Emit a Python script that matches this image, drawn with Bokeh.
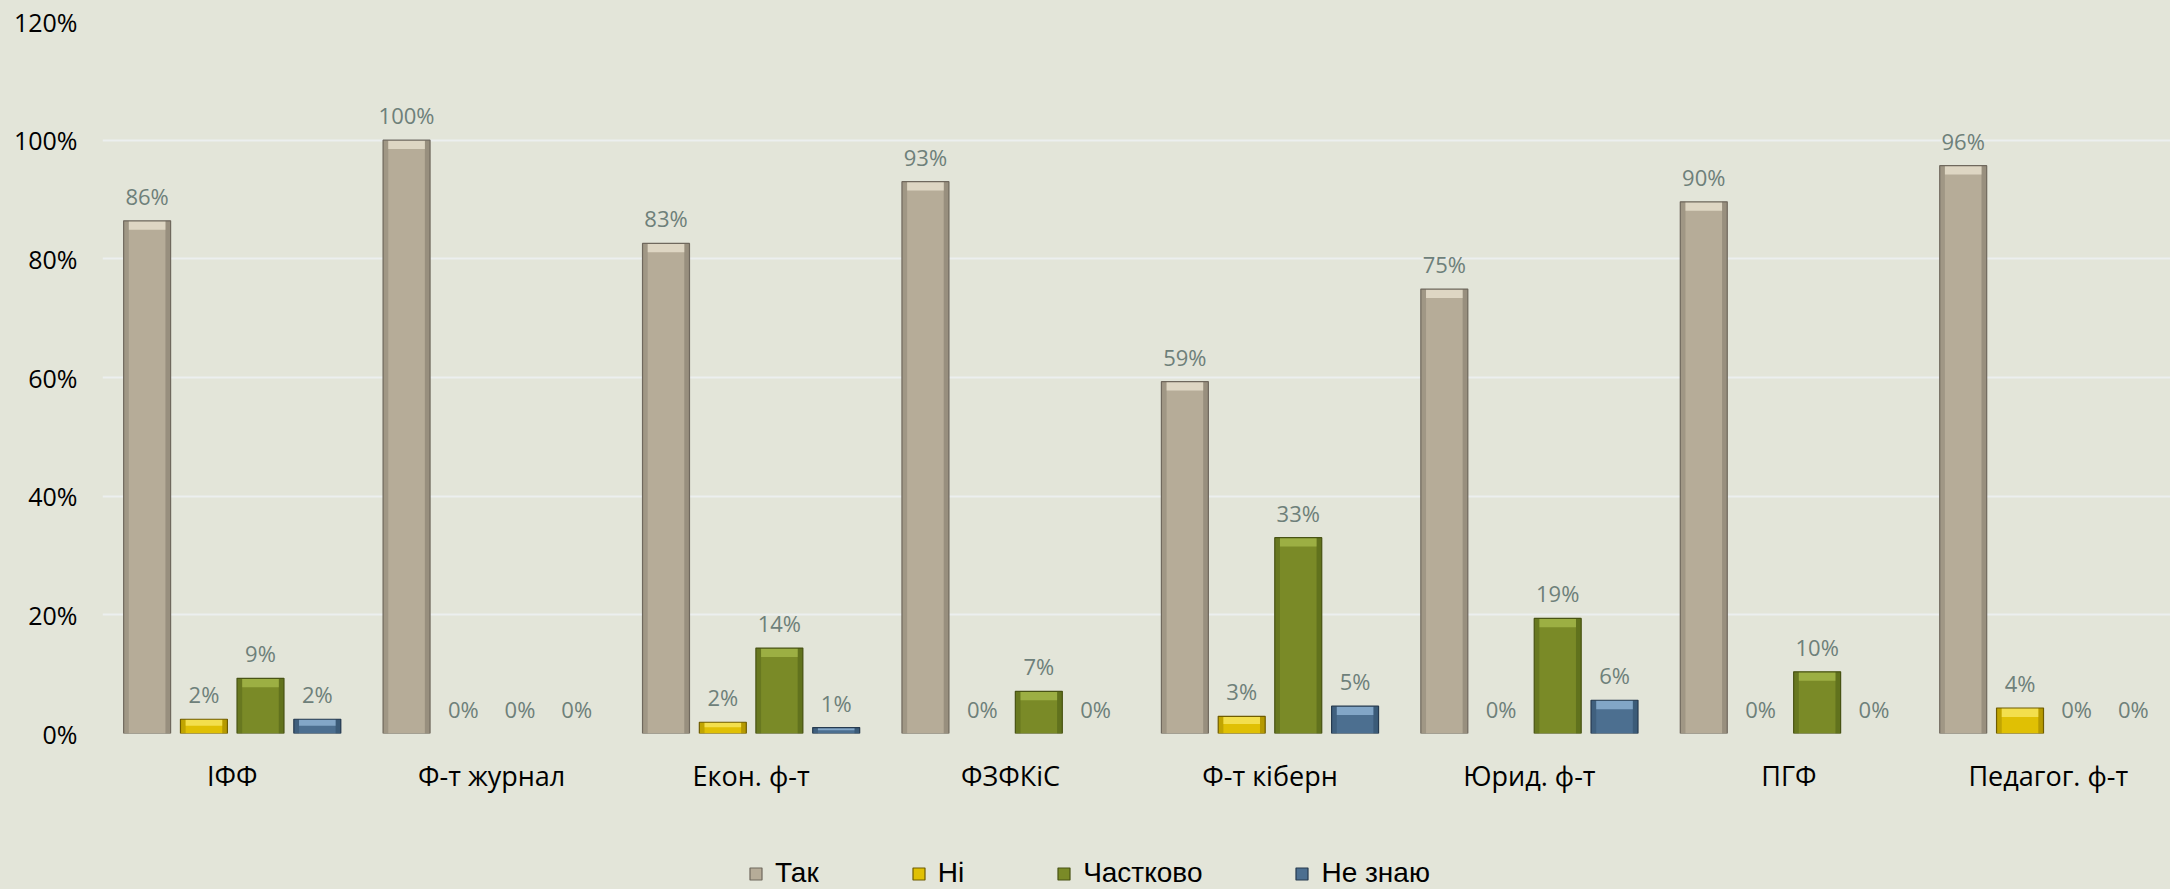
from bokeh.plotting import figure
from bokeh.layouts import column
from bokeh.models import (Range1d, FixedTicker, PrintfTickFormatter, Legend, LegendItem,
                          ColumnDataSource)
from bokeh.core.properties import value
from bokeh.embed import file_html
from bokeh.resources import INLINE

categories = ["ІФФ", "Ф-т журнал", "Екон. ф-т", "ФЗФКіС", "Ф-т кіберн", "Юрид. ф-т", "ПГФ", "Педагог. ф-т"]
series_names = ["Так", "Ні", "Частково", "Не знаю"]
tak = [86.4, 100.0, 82.6, 93.0, 59.3, 74.9, 89.6, 95.7]
ni = [2.4, 0.0, 1.9, 0.0, 2.9, 0.0, 0.0, 4.3]
chastkovo = [9.3, 0.0, 14.4, 7.1, 33.0, 19.4, 10.4, 0.0]
ne_znayu = [2.4, 0.0, 1.0, 0.0, 4.6, 5.6, 0.0, 0.0]
y_ticks = [0, 20, 40, 60, 80, 100, 120]

series = [tak, ni, chastkovo, ne_znayu]
fills = ["#B6AC98", "#E0C004", "#7A8A27", "#4C6F90"]
edges = ["#6F685D", "#6F5C00", "#485314", "#263A4F"]
lights = ["#E9E1CE", "#F8E660", "#A5B84B", "#90B4D4"]
shades = ["#8E8676", "#A88E00", "#5A6A1B", "#365470"]
offsets = [-0.328, -0.109, 0.109, 0.328]
bar_w = 0.181
strip = 0.02

BG = "#E3E5D9"
FONT = "Open Sans"

p = figure(width=2170, height=845, output_backend="svg", toolbar_location=None,
           x_range=Range1d(0, 7.971), y_range=Range1d(0, 120),
           min_border_left=102, min_border_right=0, min_border_top=21, min_border_bottom=112)
p.background_fill_color = BG
p.border_fill_color = BG
p.outline_line_color = None

label_color = "#6E807A"
for k, vals in enumerate(series):
    xs = [i + 0.5 + offsets[k] for i in range(len(categories))]
    nz = [j for j, v in enumerate(vals) if v > 0]
    bars = ColumnDataSource(dict(
        x=[xs[j] for j in nz], top=[vals[j] for j in nz],
        xl=[xs[j] - bar_w / 2 + strip / 2 for j in nz],
        xr=[xs[j] + bar_w / 2 - strip / 2 for j in nz],
        hb=[max(vals[j] - min(1.5, vals[j] * 0.45), 0) for j in nz]))
    p.vbar(x="x", top="top", bottom=0, width=bar_w, source=bars,
           fill_color=fills[k], line_color=None)
    p.vbar(x="xl", top="top", bottom=0, width=strip, source=bars,
           fill_color=shades[k], fill_alpha=0.55, line_color=None)
    p.vbar(x="xr", top="top", bottom=0, width=strip, source=bars,
           fill_color=shades[k], fill_alpha=0.75, line_color=None)
    p.vbar(x="x", top="top", bottom="hb", width=bar_w - 2 * strip, source=bars,
           fill_color=lights[k], fill_alpha=0.8, line_color=None)
    p.vbar(x="x", top="top", bottom=0, width=bar_w, source=bars,
           fill_color=None, line_color=edges[k], line_width=1.2)
    labels = ColumnDataSource(dict(x=xs, top=vals, lab=[f"{round(v)}%" for v in vals]))
    p.text(x="x", y="top", text="lab", source=labels, text_align="center",
           text_baseline="middle", y_offset=-25, text_color=label_color,
           text_font=value(FONT), text_font_size="22px")

p.yaxis.ticker = FixedTicker(ticks=y_ticks)
p.yaxis.formatter = PrintfTickFormatter(format="%d%%")
p.yaxis.axis_line_color = None
p.yaxis.major_tick_line_color = None
p.yaxis.minor_tick_line_color = None
p.yaxis.major_label_text_font = FONT
p.yaxis.major_label_text_font_size = "25px"
p.yaxis.major_label_text_color = "#000000"
p.yaxis.major_label_standoff = 19

p.xaxis.ticker = FixedTicker(ticks=[i + 0.5 for i in range(len(categories))])
p.xaxis.major_label_overrides = {i + 0.5: c for i, c in enumerate(categories)}
p.xaxis.axis_line_color = None
p.xaxis.major_tick_line_color = None
p.xaxis.minor_tick_line_color = None
p.xaxis.major_label_text_font = FONT
p.xaxis.major_label_text_font_size = "27px"
p.xaxis.major_label_text_color = "#000000"
p.xaxis.major_label_standoff = 17

p.xgrid.visible = False
p.ygrid.ticker = FixedTicker(ticks=y_ticks)
p.ygrid.grid_line_color = "#ECEFEF"
p.ygrid.grid_line_width = 2

# legend strip below the chart (its frame is aligned with the chart frame by the column)
lg = figure(width=2170, height=44, output_backend="svg", toolbar_location=None,
            x_range=Range1d(0, 1), y_range=Range1d(0, 1),
            x_axis_location=None, y_axis_location=None,
            min_border_left=102, min_border_right=0, min_border_top=0, min_border_bottom=0)
lg.background_fill_color = BG
lg.border_fill_color = BG
lg.outline_line_color = None
lg.xgrid.visible = False
lg.ygrid.visible = False
items = []
for k, name in enumerate(series_names):
    xs = [i + 0.5 + offsets[k] for i in range(len(categories))]
    r = lg.vbar(x=xs, top=series[k], width=bar_w, fill_color=fills[k],
                line_color=edges[k], line_width=1.2, visible=False)
    items.append(LegendItem(label=name, renderers=[r]))
legend = Legend(items=items, location=(646, 0), orientation="horizontal", spacing=92,
                padding=0, margin=0, glyph_width=15, glyph_height=15, label_standoff=12,
                label_text_font="Liberation Sans", label_text_font_size="28px",
                label_text_color="#000000", background_fill_alpha=0, border_line_color=None)
lg.add_layout(legend, "center")

layout = column(p, lg, spacing=0)
html = file_html(layout, INLINE)
style = ("<style>html, body {margin:0 !important; padding:0 !important; "
         "background:#E3E5D9 !important; overflow:hidden;}</style>")
html = html.replace("</head>", style + "</head>", 1)
open("out.html", "w").write(html)
